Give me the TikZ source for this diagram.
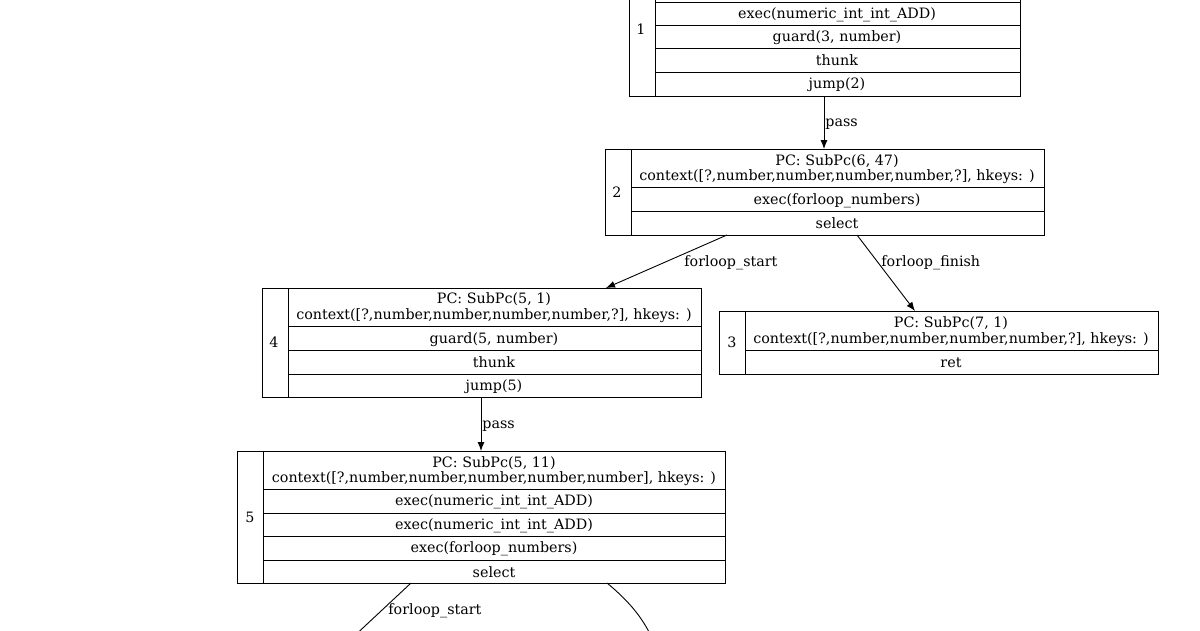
\documentclass[tikz,border=0pt]{standalone}
\usepackage{fontspec}
\setmainfont{DejaVu Serif}
\usetikzlibrary{arrows.meta}
\begin{document}
\begin{tikzpicture}[x=1pt,y=-1pt,
  box/.style={draw,inner sep=0,anchor=north west},
  t/.style={font=\fontsize{14.3}{16}\selectfont,inner sep=0,yshift=-1.5},
  lbl/.style={t,anchor=west},
  edge/.style={-{Latex[length=9,width=7]}}]
\useasboundingbox (0,0) rectangle (1200,630);
\clip (0,0) rectangle (1200,630);
\tikzset{every path/.style={line width=0.9pt}}
% node 1
\node[box,minimum width=391,minimum height=136] (n1) at (629,-40) {};
\draw (655,-40)--(655,96);
\foreach \y in {2,25,48,72} \draw (655,\y)--(1020,\y);
\node[t] at (641,28) {1};
\node[t] at (837,13) {exec(numeric\_int\_int\_ADD)};
\node[t] at (837,36) {guard(3, number)};
\node[t] at (837,59) {thunk};
\node[t] at (837,83) {jump(2)};
% node 2
\node[box,minimum width=439,minimum height=86] (n2) at (605,149) {};
\draw (631,149)--(631,235);
\foreach \y in {187,211} \draw (631,\y)--(1044,\y);
\node[t] at (617,191) {2};
\node[t] at (837,160) {PC: SubPc(6, 47)};
\node[t] at (837,175) {context([?,number,number,number,number,?], hkeys: )};
\node[t] at (837,199) {exec(forloop\_numbers)};
\node[t] at (837,222) {select};
% node 4
\node[box,minimum width=439,minimum height=109] (n4) at (262,288) {};
\draw (288,288)--(288,397);
\foreach \y in {326,350,374} \draw (288,\y)--(701,\y);
\node[t] at (274,341) {4};
\node[t] at (494,298) {PC: SubPc(5, 1)};
\node[t] at (494,314) {context([?,number,number,number,number,?], hkeys: )};
\node[t] at (494,338) {guard(5, number)};
\node[t] at (494,361) {thunk};
\node[t] at (494,385) {jump(5)};
% node 3
\node[box,minimum width=439,minimum height=63] (n3) at (719,311) {};
\draw (745,311)--(745,374);
\draw (745,350)--(1158,350);
\node[t] at (732,341) {3};
\node[t] at (951,322) {PC: SubPc(7, 1)};
\node[t] at (951,338) {context([?,number,number,number,number,?], hkeys: )};
\node[t] at (951,361) {ret};
% node 5
\node[box,minimum width=488,minimum height=132] (n5) at (237,451) {};
\draw (263,451)--(263,583);
\foreach \y in {489,513,536,560} \draw (263,\y)--(725,\y);
\node[t] at (250,516) {5};
\node[t] at (494,462) {PC: SubPc(5, 11)};
\node[t] at (494,477) {context([?,number,number,number,number,number], hkeys: )};
\node[t] at (494,500) {exec(numeric\_int\_int\_ADD)};
\node[t] at (494,524) {exec(numeric\_int\_int\_ADD)};
\node[t] at (494,547) {exec(forloop\_numbers)};
\node[t] at (494,571) {select};
% edges
\coordinate (e6) at (350,640);
\coordinate (e7) at (655,645);
\draw[edge] (n1.south -| 824,0) -- (n2.north -| 824,0) node[lbl,pos=0.5,xshift=1] {pass};
\draw[edge] (727,235) -- (n4.north -| 606,0);
\node[lbl] at (684,261) {forloop\_start};
\draw[edge] (857,235) -- (n3.north -| 915,0);
\node[lbl] at (881,261) {forloop\_finish};
\draw[edge] (n4.south -| 481,0) -- (n5.north -| 481,0) node[lbl,pos=0.5,xshift=1] {pass};
\draw[edge] (411,583) -- (e6);
\node[lbl] at (388,609) {forloop\_start};
\draw (607,583) .. controls (630,602) and (645,620) .. (e7);
\end{tikzpicture}
\end{document}
